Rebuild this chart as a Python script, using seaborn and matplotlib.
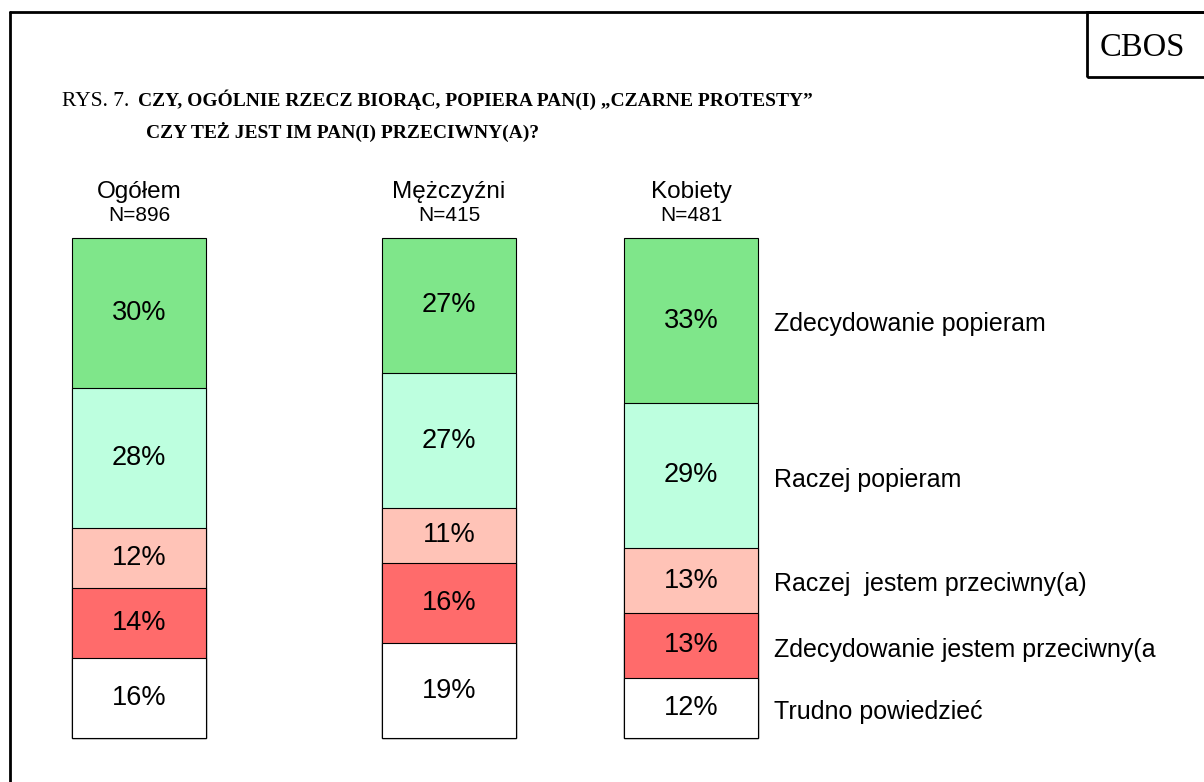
import numpy as np
import pandas as pd
import matplotlib
matplotlib.use('Agg')
import matplotlib.pyplot as plt
import seaborn as sns
from matplotlib.lines import Line2D
from matplotlib.patches import Rectangle

sns.set_theme(style='white')
plt.rcParams['font.family'] = ['Liberation Sans', 'DejaVu Sans']
plt.rcParams['text.color'] = 'black'

# dane
groups = ['Ogółem', 'Mężczyźni', 'Kobiety']
sizes = ['N=896', 'N=415', 'N=481']
answers = ['Zdecydowanie popieram', 'Raczej popieram', 'Raczej  jestem przeciwny(a)',
           'Zdecydowanie jestem przeciwny(a', 'Trudno powiedzieć']
ogolem = [30, 28, 12, 14, 16]
mezczyzni = [27, 27, 11, 16, 19]
kobiety = [33, 29, 13, 13, 12]
colors = ['#7FE68A', '#BDFFDF', '#FFC3B7', '#FF6B6B', '#FFFFFF']

df = pd.DataFrame({'grupa': np.repeat(groups, len(answers)),
                   'odpowiedz': answers * len(groups),
                   'proc': ogolem + mezczyzni + kobiety})

W, H = 1204, 782
fig = plt.figure(figsize=(W / 100, H / 100), dpi=100)

# ramka i pole CBOS
fig.add_artist(Line2D([10 / W, 1], [1 - 12 / H, 1 - 12 / H], color='black', lw=2, transform=fig.transFigure))
fig.add_artist(Line2D([10 / W, 10 / W], [0, 1 - 12 / H], color='black', lw=2, transform=fig.transFigure))
fig.add_artist(Rectangle((1087 / W, 1 - 77 / H), 130 / W, 65 / H, fill=False, ec='black', lw=2,
                         transform=fig.transFigure))
fig.text(1142 / W, 1 - 56 / H, 'CBOS', ha='center', va='baseline', fontsize=23.5, family='Liberation Serif')

fig.text(62 / W, 1 - 106 / H, 'RYS. 7.', ha='left', va='baseline', fontsize=15.5, family='Liberation Serif')
fig.text(138 / W, 1 - 106 / H, 'CZY, OGÓLNIE RZECZ BIORĄC, POPIERA PAN(I) „CZARNE PROTESTY”',
         ha='left', va='baseline', fontsize=14, family='Liberation Serif', fontweight='bold')
fig.text(146 / W, 1 - 138 / H, 'CZY TEŻ JEST IM PAN(I) PRZECIWNY(A)?',
         ha='left', va='baseline', fontsize=14, family='Liberation Serif', fontweight='bold')

bar_left = [72, 382, 624]
bar_w = 134
top, bottom = 238, 738

for gi, g in enumerate(groups):
    ax = fig.add_axes([bar_left[gi] / W, 1 - bottom / H, bar_w / W, (bottom - top) / H])
    sub = df[df['grupa'] == g].reset_index(drop=True)
    vals = sub['proc'].values
    # nakladane slupki skumulowane (od gory do dolu)
    for k in range(len(answers)):
        cum = vals[k:].sum()
        sns.barplot(x=[g], y=[cum], color=colors[k], saturation=1, width=1,
                    edgecolor='black', linewidth=0.8, ax=ax)
    for p in ax.patches:
        p.set_clip_on(False)
    ax.set_xlim(-0.5, 0.5)
    ax.set_ylim(0, 100)
    ax.axis('off')

    for k in range(len(answers)):
        mid = vals[k + 1:].sum() + vals[k] / 2
        ax.text(0, mid, f'{vals[k]}%', ha='center', va='center', fontsize=19.5)
        if g == 'Kobiety':
            ax.text(0.62, mid - 0.8, answers[k], ha='left', va='center', fontsize=18, clip_on=False)

    ax.text(0.5, 1 + 40 / 500, g, transform=ax.transAxes, ha='center', va='baseline', fontsize=17.5)
    ax.text(0.5, 1 + 17 / 500, sizes[gi], transform=ax.transAxes, ha='center', va='baseline', fontsize=15)

plt.savefig('out.png', dpi=100)
plt.close()
